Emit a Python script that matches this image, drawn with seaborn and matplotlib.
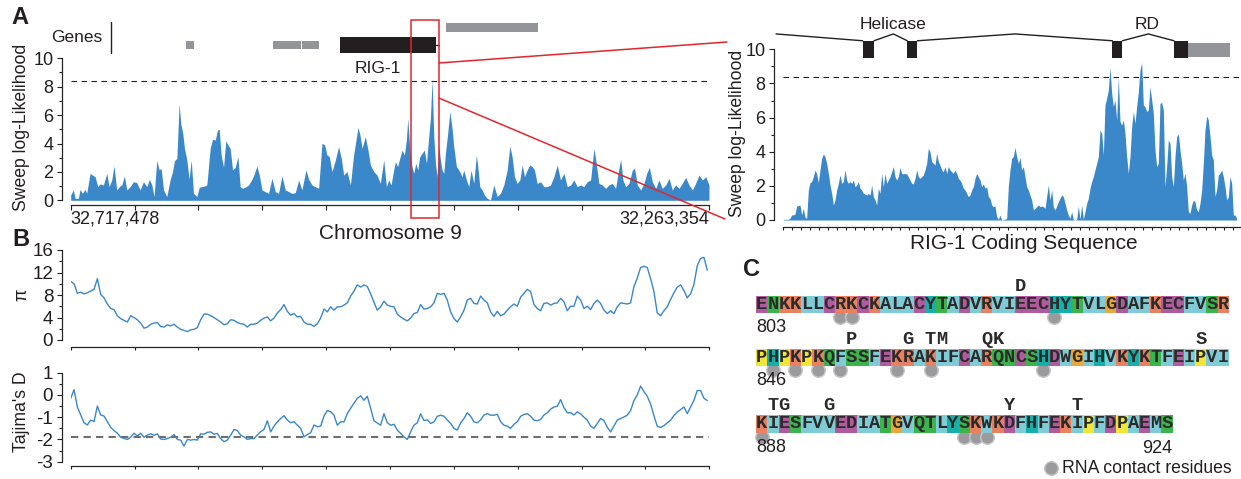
import numpy as np
import matplotlib
matplotlib.use("Agg")
import matplotlib.pyplot as plt
from matplotlib.colors import ListedColormap
from matplotlib.patches import Rectangle, ConnectionPatch
from matplotlib.lines import Line2D
import seaborn as sns

sns.set_style("ticks")
plt.rcParams['font.family'] = ['Liberation Sans', 'DejaVu Sans']
plt.rcParams['axes.unicode_minus'] = False
plt.rcParams['axes.linewidth'] = 0.9

BLUE = '#3A87C9'
GRAY = '#939598'
INK = '#231F20'
RED = '#E3262B'

# ---- data -------------------------------------------------------------
window_kb = 454.124          # 32,717,478 .. 32,263,354
sweep_cut = 8.38             # significance threshold (dashed)
tajima_cut = -1.88

# panel A left: sweep log-likelihood along chromosome 9 (kb from left end)
sweep_kb = [0.0, 1.9, 3.1, 5.5, 6.6, 8.3, 10.2, 11.4, 13.8, 15.4,
            17.3, 19.2, 20.9, 23.3, 25.6, 27.3, 29.2, 30.8, 32.7, 35.1,
            36.3, 38.2, 39.9, 42.2, 44.6, 47.0, 49.4, 51.7, 54.1, 56.0,
            57.7, 59.3, 61.2, 62.9, 64.3, 66.0, 68.3, 70.7, 72.4, 73.8,
            75.5, 77.1, 78.3, 79.7, 80.9, 82.6, 84.2, 85.7, 87.3, 89.7,
            91.4, 93.3, 95.2, 96.8, 99.2, 100.9, 102.8, 104.4, 105.6, 107.0,
            108.7, 110.3, 111.8, 113.4, 115.1, 117.0, 118.9, 120.5, 122.2, 124.1,
            126.5, 128.9, 130.5, 132.4, 134.1, 136.0, 138.3, 140.7, 143.1, 145.5,
            147.8, 150.2, 152.6, 155.0, 157.3, 159.7, 162.1, 164.4, 167.3, 169.2,
            171.6, 173.9, 176.3, 178.7, 180.6, 182.2, 183.9, 185.8, 188.2, 190.5,
            192.4, 194.1, 196.5, 198.9, 201.2, 202.9, 204.3, 205.7, 207.2, 209.5,
            211.4, 213.1, 215.5, 217.8, 220.2, 222.6,
            224.5, 226.1, 227.8, 229.7, 230.9, 232.5, 234.0, 235.6, 237.3, 238.7,
            239.7, 241.1, 242.7, 243.9, 245.4, 246.8, 248.2, 249.9, 251.5, 253.0,
            254.6, 255.8, 257.0, 258.2, 259.4, 260.5, 261.7, 262.9, 264.1, 265.3,
            266.5, 268.1, 269.6, 271.2, 272.4, 274.3, 276.0, 277.2, 278.3, 279.5,
            281.4, 283.1, 284.7, 286.6, 288.5, 289.5, 290.9, 292.6, 294.2, 296.1,
            298.5, 300.9, 303.3, 305.6, 308.0, 310.4, 312.3, 313.9, 315.6, 317.5,
            319.4, 321.1, 322.7, 324.6, 326.5, 328.2, 329.8, 331.7, 334.1, 336.5,
            338.9, 341.2, 343.6, 346.0, 348.3, 350.7, 353.1, 355.5, 357.8, 360.2,
            362.6, 364.9, 367.3, 369.7, 372.1, 373.7, 375.6, 378.0, 380.4, 382.7,
            385.1, 387.5, 389.2, 391.1, 392.7, 394.6, 397.0, 399.4, 401.0, 402.9,
            405.3, 407.7, 409.6, 411.5, 413.6, 416.0, 418.3, 420.7, 423.1, 425.5,
            427.8, 430.2, 432.6, 434.9, 437.3, 439.7, 442.1, 444.4, 446.8, 449.2,
            451.6, 453.9]
sweep_ll = [0.38, 0.73, 0.14, 0.14, 0.77, 0.49, 0.77, 0.49, 1.90, 1.78,
            1.67, 0.96, 1.15, 1.08, 1.90, 0.96, 1.43, 2.42, 0.73, 1.01,
            1.08, 1.71, 0.73, 0.96, 1.31, 1.24, 0.73, 1.31, 0.96, 1.48,
            1.08, 0.26, 2.79, 2.14, 2.25, 0.73, 0.26, 1.43, 2.02, 2.79,
            2.96, 6.78, 5.38, 4.72, 3.66, 2.84, 1.48, 2.84, 0.49, 0.26,
            0.92, 0.96, 1.01, 1.08, 3.66, 4.30, 4.25, 4.95, 5.00, 3.19,
            2.32, 4.20, 3.90, 3.66, 2.14, 2.32, 3.08, 0.96, 0.85, 0.92,
            1.08, 1.48, 1.83, 2.42, 1.78, 0.73, 0.61, 0.49, 1.55, 0.61,
            0.49, 1.71, 0.73, 0.61, 0.49, 0.54, 1.43, 0.73, 2.14, 1.48,
            1.08, 0.96, 0.85, 4.01, 3.90, 3.19, 3.08, 2.02, 2.84, 3.78,
            2.96, 1.78, 2.02, 1.08, 3.19, 4.25, 5.14, 4.60, 3.66, 4.48,
            3.54, 2.49, 2.02, 1.78, 1.20, 2.84,
            0.96, 1.43, 1.08, 2.13, 2.72, 2.37, 2.96, 3.54, 3.19, 4.25,
            5.77, 3.66, 2.37, 1.90, 2.60, 2.13, 3.07, 3.31, 3.54, 2.60,
            4.48, 5.77, 8.52, 4.48, 2.60, 1.66, 3.89, 2.84, 2.13, 1.90,
            3.31, 4.72, 6.24, 5.07, 3.78, 2.37, 2.13, 1.90, 1.66, 2.13,
            1.43, 0.96, 2.13, 1.19, 3.19, 2.37, 0.96, 0.73, 0.37, 0.14,
            0.02, 1.08, 0.26, 0.49, 1.08, 2.13, 3.82, 3.07, 1.66, 1.19,
            1.43, 2.49, 1.66, 2.13, 2.49, 2.37, 2.13, 1.19, 1.31, 0.96,
            0.96, 1.08, 1.66, 2.49, 1.43, 1.90, 0.96, 1.08, 1.43, 0.96,
            1.08, 0.96, 1.31, 1.43, 3.66, 2.60, 1.19, 1.08, 0.84, 1.08,
            1.19, 0.84, 1.90, 2.89, 1.43, 0.96, 1.19, 2.13, 2.25, 1.08,
            0.73, 1.19, 1.90, 2.32, 1.31, 0.84, 1.43, 0.84, 1.08, 1.55,
            0.73, 1.08, 0.84, 1.19, 1.62, 1.08, 0.73, 1.19, 1.78, 1.43,
            1.66, 1.08]

# gene track (kb start, kb end)
grey_genes = [(82.0, 87.9), (144.1, 163.8), (164.7, 176.6)]
rig1_gene = (191.5, 259.8)
upper_gene = (266.7, 332.5)
zoom_box = (242.0, 261.9)

# panel A right: RIG-1 coding sequence, 10-nt windows
cds_ll = [0.04, 0.04, 0.04, 0.04, 0.1, 0.3, 0.3, 0.35, 0.82, 0.85,
          0.88, 0.3, 0.68, 0.16, 0.1, 1.76, 2.19, 2.25, 2.54, 2.93,
          2.7, 2.19, 2.93, 3.61, 3.87, 3.71, 3.32, 2.73, 2.05, 1.56,
          0.88, 1.17, 1.76, 2.15, 2.64, 2.15, 2.25, 2.93, 2.34, 2.15,
          2.25, 2.15, 2.34, 1.95, 2.05, 2.25, 1.86, 1.76, 1.56, 1.52,
          1.46, 1.56, 1.46, 2.05, 1.37, 1.17, 0.88, 1.86, 1.56, 2.73,
          1.95, 2.73, 2.15, 2.34, 2.54, 2.83, 3.13, 2.54, 2.34, 2.54,
          3.09, 2.73, 2.7, 2.73, 2.7, 2.54, 2.34, 2.15, 2.11, 2.44,
          2.93, 2.54, 2.44, 2.54, 2.64, 2.93, 3.32, 4.2, 4.0, 3.42,
          3.32, 3.22, 3.91, 3.42, 3.22, 2.93, 2.83, 3.13, 2.73, 3.13,
          2.93, 2.83, 2.73, 2.93, 2.73, 2.44, 2.34, 2.15, 1.86, 1.76,
          1.56, 1.37, 1.46, 1.76, 1.95, 2.44, 2.73, 2.54, 2.34, 1.95,
          2.11, 1.86, 1.95, 1.37, 1.27, 0.88, 0.78, 0.82, 0.2, 0.04,
          0.29, 0.0, 0.04, 0.04, 0.1, 1.95, 2.93, 3.61, 3.71, 4.26,
          3.71, 3.32, 3.67, 2.93, 3.13, 2.54, 1.95, 1.76, 1.46, 1.17,
          0.59, 0.68, 0.78, 0.88, 0.78, 0.82, 0.78, 0.68, 1.37, 2.05,
          1.17, 1.76, 0.78, 0.59, 0.82, 1.07, 1.27, 1.46, 1.37, 0.98,
          0.59, 0.29, 0.1, 0.49, 0.04, 0.0, 0.04, 0.82, 0.04, 0.88,
          0.04, 0.49, 0.98, 1.27, 1.86, 2.25, 2.54, 2.93, 3.32, 3.71,
          5.27, 5.08, 3.81, 6.74, 7.13, 7.62, 8.95, 7.42, 6.64, 7.03,
          5.86, 8.36, 5.76, 5.57, 5.86, 5.08, 3.71, 2.73, 3.71, 5.47,
          6.35, 5.66, 6.64, 7.52, 8.79, 9.22, 6.74, 6.64, 6.35, 6.45,
          7.81, 7.03, 6.25, 4.1, 3.13, 3.32, 6.84, 6.88, 6.45, 1.95,
          3.13, 4.69, 4.49, 2.54, 1.95, 3.71, 4.88, 5.04, 4.1, 3.32,
          2.34, 2.73, 1.95, 0.49, 0.39, 0.88, 1.17, 1.07, 0.59, 0.49,
          0.98, 1.76, 3.32, 5.27, 6.09, 5.86, 4.88, 3.81, 3.52, 1.37,
          1.76, 2.64, 2.73, 2.93, 2.54, 1.95, 1.17, 1.37, 2.54, 2.15,
          0.29, 0.29, 0.1]
cds_len = 2740
exons = [(476, 544), (744, 804), (1974, 2034), (2344, 2430)]
utr = (2430, 2680)
intron_peaks = [660, 1390, 2190]
domain_names = ["Helicase", "RD"]
domain_pos = [655, 2185]

# panel B: diversity and Tajima's D in 2.37 kb windows
pi_vals = [10.4, 10.0, 8.3, 8.5, 8.2, 8.4, 8.7, 9.0, 10.9, 8.1,
           7.5, 6.4, 5.6, 5.4, 4.3, 3.8, 3.5, 3.2, 4.3, 4.0,
           3.6, 3.0, 2.1, 2.3, 2.8, 3.0, 3.1, 2.4, 2.3, 2.7,
           2.5, 2.8, 2.3, 1.9, 1.7, 1.5, 1.8, 1.9, 2.2, 3.6,
           4.6, 4.6, 4.3, 4.0, 3.6, 3.2, 2.7, 2.9, 3.6, 3.5,
           3.1,
           2.9, 2.8, 2.3, 2.8, 2.8, 3.0, 3.5, 3.9, 4.1, 3.4,
           3.9, 4.8, 5.4, 6.3, 5.1, 4.4, 4.7, 4.1, 4.2, 3.2,
           2.8, 2.8, 2.4, 2.9, 3.9, 5.5, 5.0, 5.9, 5.3, 5.9,
           5.9, 6.2, 6.6, 7.8, 8.7, 9.8, 9.4, 9.8, 9.5, 8.2,
           6.7, 5.3, 5.9, 6.9, 6.2, 6.0, 5.9, 4.6, 4.1, 3.7,
           3.4, 3.9, 4.7, 4.9, 6.3, 5.5, 5.6, 5.9, 6.6, 8.3,
           8.1, 8.3, 7.1, 5.0, 3.8, 3.2, 4.1, 5.3, 7.1, 7.4,
           6.5, 6.4,
           7.8, 7.1, 6.6, 5.0, 4.2, 5.1, 4.3, 4.6, 5.3, 5.9,
           6.4, 6.0, 7.6, 8.3, 9.0, 8.6, 6.3, 5.6, 5.2, 6.5,
           6.6, 6.2, 6.5, 6.6, 7.4, 6.8, 5.2, 6.0, 6.0, 7.8,
           7.1, 5.6, 6.0, 5.4, 6.5, 7.1, 6.5, 5.3, 4.7, 5.2,
           4.7, 5.9, 6.6, 6.5, 6.4, 6.6, 9.5, 11.0, 12.9, 13.1,
           12.9, 10.9, 8.6, 4.8, 4.3, 5.2, 5.9, 7.2, 8.4, 9.4,
           9.8, 8.8, 7.5, 8.2, 9.9, 13.2, 14.5, 14.7, 12.4]
tajima_d = [-0.16, 0.24, -0.54, -0.9, -1.25, -1.35, -1.13, -1.2, -0.5, -0.9,
            -0.95, -1.2, -1.45, -1.6, -1.72, -1.9, -1.95, -2.0, -1.9, -1.72,
            -1.85, -1.72, -1.9, -1.8, -1.75, -1.81, -1.75, -1.98, -2.0, -1.96,
            -1.9, -1.78, -2.0, -2.03, -2.3, -2.0, -2.03, -2.0, -2.03, -1.75,
            -1.76, -1.68, -1.66, -1.76, -1.73, -1.96, -2.1, -2.03, -1.81, -1.55,
            -1.6,
            -1.81, -1.88, -2.0, -1.96, -1.96, -1.8, -1.65, -1.55, -1.16, -1.66,
            -1.40, -1.21, -1.06, -0.93, -1.13, -1.25, -1.2, -1.36, -1.5, -1.88,
            -1.78, -1.70, -1.35, -1.43, -1.4, -0.95, -0.7, -0.75, -0.91, -1.36,
            -1.21, -1.21, -0.84, -0.6, -0.37, -0.15, -0.04, -0.24, -0.06, -0.6,
            -1.16, -1.26, -1.36, -0.84, -1.25, -1.36, -1.32, -1.58, -1.73, -1.88,
            -2.0, -1.66, -1.36, -1.25, -0.85, -1.15, -1.12, -1.28, -1.21, -0.96,
            -0.91, -0.96, -1.13, -1.28, -1.5, -1.58, -1.26, -1.06, -0.8, -0.96,
            -1.21, -1.25,
            -1.12, -0.9, -0.84, -0.91, -0.91, -0.87, -1.2, -1.36, -1.4, -1.5,
            -1.32, -1.2, -0.96, -0.88, -0.84, -0.96, -1.13, -1.16, -1.1, -0.9,
            -0.8, -0.64, -0.54, -0.51, -0.21, -0.57, -0.8, -0.8, -0.9, -0.76,
            -0.85, -1.0, -1.13, -1.4, -1.5, -1.28, -1.06, -1.15, -1.45, -1.66,
            -1.4, -1.13, -1.06, -0.99, -0.91, -0.7, -0.25, 0.0, 0.4, 0.15,
            -0.06, -0.41, -0.93, -1.41, -1.46, -1.38, -1.25, -1.13, -0.93, -0.77,
            -0.66, -0.54, -0.84, -0.54, -0.24, 0.2, 0.2, -0.15, -0.25]
win_step_kb = 2.37

# panel C: RIG-1 CTD sequence
seq_rows = ["ENKKLLCRKCKALACYTADVRVIEECHYTVLGDAFKECFVSR",
            "PHPKPKQFSSFEKRAKIFCARQNCSHDWGIHVKYKTFEIPVI",
            "KIESFVVEDIATGVQTLYSKWKDFHFEKIPFDPAEMS"]
row_first = [803, 846, 888]
last_residue = 924
contacts = [[7, 8, 26], [1, 3, 5, 7, 12, 15, 25], [0, 18, 19, 20]]
variants = [{23: "D"},
            {8: "P", 13: "G", 15: "T", 16: "M", 20: "Q", 21: "K", 39: "S"},
            {1: "T", 2: "G", 6: "G", 22: "Y", 28: "T"}]
aa_group = {'A': 0, 'V': 0, 'L': 0, 'I': 0, 'F': 0, 'W': 0, 'M': 0,
            'K': 1, 'R': 1, 'D': 2, 'E': 2, 'C': 2,
            'S': 3, 'T': 3, 'N': 3, 'Q': 3, 'G': 4, 'P': 5, 'H': 6, 'Y': 6}
group_colors = ['#80CCD6', '#E9805F', '#B15B9F', '#3DB44B',
                '#EBA83A', '#F2E53A', '#17AFA9']

# ---- figure -----------------------------------------------------------
W, H = 1241, 479
fig = plt.figure(figsize=(W / 100, H / 100), dpi=100)


def px_axes(x0, y0, x1, y1):
    return fig.add_axes([x0 / W, 1 - y1 / H, (x1 - x0) / W, (y1 - y0) / H])


def ftext(x, y, s, **kw):
    fig.text(x / W, 1 - y / H, s, **kw)


def tick_style(ax, size=13):
    ax.tick_params(which='major', length=3.6, width=0.8, labelsize=size,
                   pad=2.5, color=INK, labelcolor=INK)
    ax.tick_params(which='minor', length=2.0, width=0.8, color=INK)


# A left
ax_a = px_axes(70.7, 58.3, 709.3, 200.3)
ax_a.fill_between(sweep_kb, sweep_ll, 0, color=BLUE, lw=0)
ax_a.axhline(sweep_cut, color=INK, lw=0.8, ls=(0, (5, 4)))
ax_a.set_xlim(0, window_kb)
ax_a.set_ylim(0, 10)
sns.despine(ax=ax_a, offset={'left': 6.3, 'bottom': 3.4})
ax_a.set_yticks(range(0, 11, 2))
ax_a.set_yticks(range(1, 10, 2), minor=True)
ax_a.set_xticks(np.linspace(0, window_kb, 11))
ax_a.set_xticklabels(['32,717,478'] + [''] * 9 + ['32,263,354'])
tick_style(ax_a)
ax_a.tick_params(axis='x', pad=0.5)
ax_a.get_xticklabels()[0].set_ha('left')
ax_a.get_xticklabels()[-1].set_ha('right')

for g0, g1 in grey_genes:
    ax_a.add_patch(Rectangle((g0, 10.63), g1 - g0, 0.61, color=GRAY,
                             clip_on=False, lw=0))
ax_a.add_patch(Rectangle((rig1_gene[0], 10.39), rig1_gene[1] - rig1_gene[0],
                         1.13, color=INK, clip_on=False, lw=0))
ax_a.plot([rig1_gene[1], zoom_box[1]], [10.95, 10.95], color=INK, lw=1,
          clip_on=False)
ax_a.add_patch(Rectangle((upper_gene[0], 11.83), upper_gene[1] - upper_gene[0],
                         0.63, color=GRAY, clip_on=False, lw=0))
ax_a.text(218.5, 9.3, 'RIG-1', ha='center', va='center', fontsize=12.5,
          color=INK)
ax_a.add_patch(Rectangle((zoom_box[0], -1.25), zoom_box[1] - zoom_box[0],
                         13.95, fill=False, ec=RED, lw=1.1, clip_on=False,
                         zorder=5))
for ya, (xb, yb) in [(9.67, (727, 42)), (7.2, (725, 219))]:
    con = ConnectionPatch(xyA=(zoom_box[1], ya), coordsA=ax_a.transData,
                          xyB=(xb / W, 1 - yb / H), coordsB=fig.transFigure,
                          color=RED, lw=1.1)
    fig.add_artist(con)

ftext(76.5, 37, 'Genes', ha='center', va='center', fontsize=12.5, color=INK)
fig.add_artist(Line2D([111 / W, 111 / W], [1 - 21.7 / H, 1 - 53.3 / H],
                      color=INK, lw=1))
ftext(21.7, 127, 'Sweep log-Likelihood', rotation=90, ha='center',
      va='center', fontsize=12.7, color=INK)
ftext(390, 233.5, 'Chromosome 9', ha='center', va='center', fontsize=15,
      color=INK)

# A right
ax_r = px_axes(782.67, 49.3, 1240, 220)
cds_pos = np.arange(len(cds_ll)) * 10
ax_r.fill_between(cds_pos, cds_ll, 0, color=BLUE, lw=0)
ax_r.axhline(sweep_cut, color=INK, lw=0.8, ls=(0, (5, 4)))
ax_r.set_xlim(-4, cds_len)
ax_r.set_ylim(0, 10)
sns.despine(ax=ax_r, offset={'left': 6.3, 'bottom': 5.3})
ax_r.set_yticks(range(0, 11, 2))
ax_r.set_yticks(range(1, 10, 2), minor=True)
ax_r.set_xticks(np.arange(-4, cds_len + 1, 54))
ax_r.set_xticklabels([])
tick_style(ax_r)
ax_r.tick_params(axis='x', length=2.0)

for e0, e1 in exons:
    ax_r.add_patch(Rectangle((e0, 9.47), e1 - e0, 1.03, color=INK,
                             clip_on=False, lw=0))
ax_r.add_patch(Rectangle((utr[0], 9.57), utr[1] - utr[0], 0.82, color=GRAY,
                         clip_on=False, lw=0))
intr_x = [-44, exons[0][0]]
intr_y = [10.9, 10.5]
ax_r.plot(intr_x, intr_y, color=INK, lw=1, clip_on=False)
for (a0, a1), (b0, b1), pk in zip(exons[:-1], exons[1:], intron_peaks):
    ax_r.plot([a1, pk, b0], [10.5, 10.9, 10.5], color=INK, lw=1,
              clip_on=False)
for name, xpos in zip(domain_names, domain_pos):
    ax_r.text(xpos, 11.48, name, ha='center', va='center', fontsize=12.5,
              color=INK)
ftext(737.5, 133.5, 'Sweep log-Likelihood', rotation=90, ha='center',
      va='center', fontsize=12.7, color=INK)
ftext(1024, 243, 'RIG-1 Coding Sequence', ha='center', va='center',
      fontsize=15, color=INK)

# B
win_kb = np.arange(len(pi_vals)) * win_step_kb
ax_pi = px_axes(70.7, 250, 709.3, 340)
sns.lineplot(x=win_kb, y=pi_vals, ax=ax_pi, color=BLUE, lw=1.0,
             estimator=None)
ax_pi.set(xlim=(0, window_kb), ylim=(0, 16), xlabel='', ylabel='')
sns.despine(ax=ax_pi, offset={'left': 6.5, 'bottom': 5.3})
ax_pi.set_yticks([0, 4, 8, 12, 16])
ax_pi.set_yticks([2, 6, 10, 14], minor=True)
ax_pi.set_xticks(np.linspace(0, window_kb, 11))
ax_pi.set_xticklabels([])
tick_style(ax_pi, 13.5)
ax_pi.tick_params(axis='x', length=2.5)

ax_td = px_axes(70.7, 372.7, 709.3, 461.7)
sns.lineplot(x=win_kb[:len(tajima_d)], y=tajima_d, ax=ax_td, color=BLUE,
             lw=1.0, estimator=None)
ax_td.axhline(tajima_cut, color='#6D6E71', lw=1.5, ls=(0, (3.5, 2.5)))
ax_td.set(xlim=(0, window_kb), ylim=(-3, 1), xlabel='', ylabel='')
sns.despine(ax=ax_td, offset={'left': 6.5, 'bottom': 3.1})
ax_td.set_yticks([-3, -2, -1, 0, 1])
ax_td.set_yticks([-2.5, -1.5, -0.5, 0.5], minor=True)
ax_td.set_xticks(np.linspace(0, window_kb, 11))
ax_td.set_xticklabels([])
tick_style(ax_td, 13.5)
ax_td.tick_params(axis='x', length=2.5)
ftext(22, 295, 'π', rotation=90, ha='center', va='center', fontsize=13,
      color=INK)
ftext(21.7, 412, "Tajima's D", rotation=90, ha='center', va='center',
      fontsize=12.7, color=INK)

# C
cell_w = 11.26
row_tops = [295.5, 348.5, 415.0]
row_h = 17.5
mono = dict(fontfamily='Liberation Mono', fontweight='bold', fontsize=13.5,
            color='#2B2B2B')
cmap = ListedColormap(group_colors)
for r, seq in enumerate(seq_rows):
    top = row_tops[r]
    ax = px_axes(756, top, 756 + len(seq) * cell_w, top + row_h)
    ax.patch.set_alpha(0)
    codes = np.array([[aa_group[c] for c in seq]])
    letters = np.array([list(seq)])
    sns.heatmap(codes, ax=ax, cmap=cmap, vmin=-0.5, vmax=6.5, cbar=False,
                annot=letters, fmt='', annot_kws=mono, xticklabels=False,
                yticklabels=False, linewidths=0)
    ax.scatter(np.array(contacts[r]) + 0.5, [1.25] * len(contacts[r]), s=95,
               color='#9B9B9D', edgecolor='#C6C6C8', lw=1.0, zorder=0,
               clip_on=False)
    for i, aa in variants[r].items():
        ax.text(i + 0.5, -0.52, aa, ha='center', va='center', clip_on=False,
                **mono)
    ax.text(0.05, 1.85, str(row_first[r]), ha='left', va='center',
            fontsize=13, color=INK, clip_on=False)
    if r == 2:
        ax.text(len(seq), 1.9, str(last_residue), ha='right', va='center',
                fontsize=13, color=INK, clip_on=False)
        ax.scatter([26.17], [3.05], s=95, color='#9B9B9D', edgecolor='#C6C6C8',
                   lw=1.0, clip_on=False)
        ax.text(27.15, 3.05, 'RNA contact residues', ha='left', va='center',
                fontsize=12.7, color=INK, clip_on=False)

ftext(20, 18, 'A', ha='center', va='center', fontsize=17, fontweight='bold',
      color=INK)
ftext(21, 240, 'B', ha='center', va='center', fontsize=17, fontweight='bold',
      color=INK)
ftext(752, 270, 'C', ha='center', va='center', fontsize=17, fontweight='bold',
      color=INK)

fig.savefig('out.png', dpi=100)
